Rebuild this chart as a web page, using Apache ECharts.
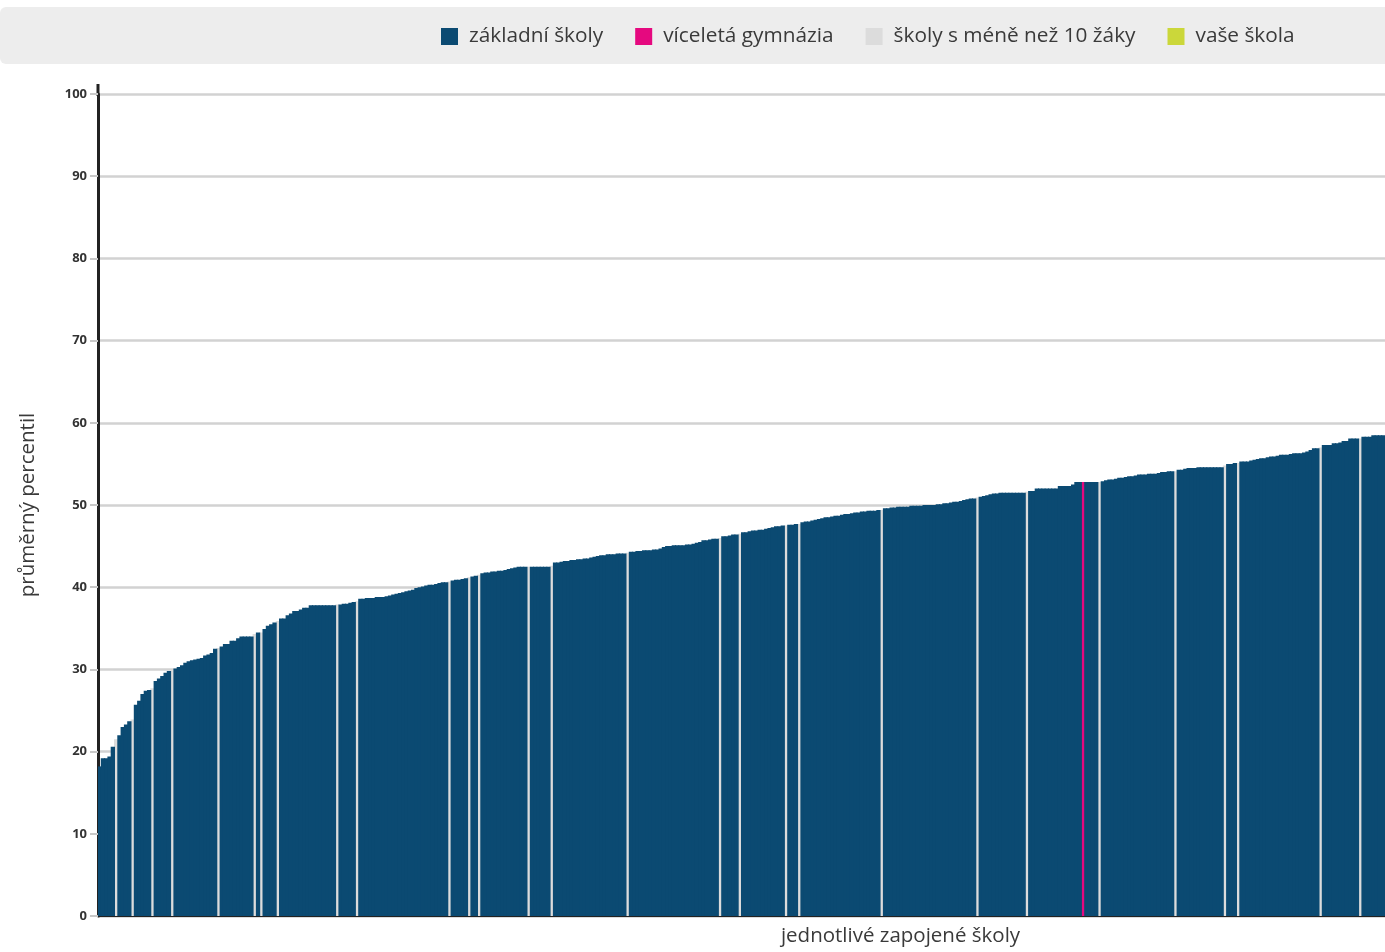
<!DOCTYPE html>
<html>
<head>
<meta charset="utf-8">
<script src="https://cdn.jsdelivr.net/npm/echarts@6/dist/echarts.min.js"></script>
<style>
html, body { margin: 0; padding: 0; background: #fff; }
#chart { width: 1385px; height: 952px; }
</style>
</head>
<body>
<div id="chart"></div>
<script>
// průměrný percentil jednotlivých škol (seřazeno)
var percentil = [
  18.2, 19.2, 19.2, 19.4, 20.6, 21.5, 22.0, 23.0, 23.3, 23.7,
  23.9, 25.7, 26.2, 27.0, 27.4, 27.5, 27.7, 28.6, 28.9, 29.2,
  29.6, 29.8, 29.9, 30.1, 30.3, 30.5, 30.8, 31.0, 31.1, 31.2,
  31.3, 31.4, 31.7, 31.8, 32.0, 32.5, 32.6, 32.8, 33.1, 33.1,
  33.5, 33.5, 33.8, 34.0, 34.0, 34.0, 34.0, 34.3, 34.5, 34.5,
  34.9, 35.3, 35.5, 35.7, 35.9, 36.2, 36.2, 36.6, 36.8, 37.1,
  37.1, 37.3, 37.5, 37.5, 37.8, 37.8, 37.8, 37.8, 37.8, 37.8,
  37.8, 37.8, 37.9, 37.9, 38.0, 38.0, 38.1, 38.2, 38.3, 38.6,
  38.6, 38.7, 38.7, 38.7, 38.8, 38.8, 38.8, 38.9, 39.0, 39.1,
  39.2, 39.3, 39.4, 39.5, 39.6, 39.7, 39.9, 40.0, 40.1, 40.2,
  40.3, 40.3, 40.4, 40.5, 40.6, 40.6, 40.7, 40.8, 40.9, 40.9,
  41.0, 41.1, 41.2, 41.3, 41.4, 41.5, 41.7, 41.8, 41.8, 41.9,
  41.9, 42.0, 42.0, 42.1, 42.2, 42.3, 42.4, 42.5, 42.5, 42.5,
  42.5, 42.5, 42.5, 42.5, 42.5, 42.5, 42.5, 42.6, 43.0, 43.0,
  43.1, 43.2, 43.2, 43.3, 43.3, 43.4, 43.4, 43.5, 43.5, 43.6,
  43.7, 43.8, 43.9, 43.9, 44.0, 44.0, 44.0, 44.1, 44.1, 44.1,
  44.2, 44.3, 44.3, 44.4, 44.4, 44.5, 44.5, 44.5, 44.6, 44.6,
  44.7, 44.9, 45.0, 45.0, 45.1, 45.1, 45.1, 45.1, 45.2, 45.2,
  45.3, 45.4, 45.5, 45.7, 45.7, 45.8, 45.9, 45.9, 46.0, 46.2,
  46.2, 46.3, 46.4, 46.4, 46.5, 46.7, 46.7, 46.8, 46.9, 46.9,
  47.0, 47.0, 47.1, 47.2, 47.3, 47.4, 47.4, 47.5, 47.5, 47.6,
  47.6, 47.7, 47.7, 47.9, 48.0, 48.0, 48.1, 48.2, 48.3, 48.4,
  48.5, 48.5, 48.6, 48.7, 48.7, 48.8, 48.9, 48.9, 49.0, 49.1,
  49.1, 49.2, 49.2, 49.3, 49.3, 49.3, 49.4, 49.4, 49.6, 49.6,
  49.7, 49.7, 49.8, 49.8, 49.8, 49.8, 49.9, 49.9, 49.9, 49.9,
  50.0, 50.0, 50.0, 50.0, 50.1, 50.1, 50.2, 50.2, 50.3, 50.4,
  50.4, 50.5, 50.6, 50.7, 50.8, 50.8, 50.9, 51.0, 51.1, 51.2,
  51.3, 51.4, 51.4, 51.5, 51.5, 51.5, 51.5, 51.5, 51.5, 51.5,
  51.5, 51.6, 51.7, 51.7, 52.0, 52.0, 52.0, 52.0, 52.0, 52.0,
  52.0, 52.3, 52.3, 52.3, 52.3, 52.5, 52.8, 52.8, 52.8, 52.8,
  52.8, 52.8, 52.8, 52.8, 52.9, 53.0, 53.1, 53.1, 53.2, 53.3,
  53.3, 53.4, 53.5, 53.5, 53.6, 53.7, 53.7, 53.7, 53.8, 53.8,
  53.8, 53.9, 54.0, 54.0, 54.1, 54.1, 54.1, 54.3, 54.3, 54.4,
  54.5, 54.5, 54.5, 54.6, 54.6, 54.6, 54.6, 54.6, 54.6, 54.6,
  54.6, 54.8, 55.0, 55.0, 55.1, 55.1, 55.3, 55.3, 55.3, 55.4,
  55.5, 55.6, 55.7, 55.7, 55.8, 55.9, 55.9, 56.0, 56.1, 56.1,
  56.1, 56.2, 56.3, 56.3, 56.3, 56.4, 56.5, 56.7, 56.9, 56.9,
  57.0, 57.3, 57.3, 57.3, 57.5, 57.5, 57.6, 57.8, 57.8, 58.1,
  58.1, 58.1, 58.1, 58.3, 58.3, 58.3, 58.5, 58.5, 58.5, 58.5
];
// pořadí škol s méně než 10 žáky
var maloZaku = [5, 10, 16, 22, 36, 47, 49, 54, 72, 78, 106, 112, 115, 130, 137, 160,
  188, 194, 208, 212, 237, 266, 281, 303, 326, 341, 345, 370, 382];
// pořadí víceletých gymnázií
var gymnazia = [298];
// vaše škola (v tomto výřezu není)
var vaseSkola = [];

var nazvy = ['základní školy', 'víceletá gymnázia', 'školy s méně než 10 žáky', 'vaše škola'];
var barvy = ['#0b4a72', '#e5097f', '#dcdcdc', '#cbd73a'];

var kategorie = percentil.map(function (v, i) { return 'š' + (i + 1); });

function typSkoly(i) {
  if (vaseSkola.indexOf(i) >= 0) return 3;
  if (gymnazia.indexOf(i) >= 0) return 1;
  if (maloZaku.indexOf(i) >= 0) return 2;
  return 0;
}

var series = nazvy.map(function (nazev, t) {
  return {
    name: nazev,
    type: 'bar',
    stack: 'skoly',
    barWidth: 4.3,
    z: t == 0 ? 3 : 2,
    itemStyle: { color: barvy[t] },
    emphasis: { disabled: true },
    data: percentil.map(function (v, i) { return typSkoly(i) == t ? v : '-'; })
  };
});

var myChart = echarts.init(document.getElementById('chart'));
var option = {
  animation: false,
  backgroundColor: '#ffffff',
  graphic: [{
    type: 'rect',
    z: -10,
    shape: { x: 0, y: 7, width: 1400, height: 57, r: 6 },
    style: { fill: '#ededed' }
  }, {
    // osa y přesahuje nad stovku
    type: 'rect',
    shape: { x: 96.5, y: 84, width: 3, height: 12 },
    style: { fill: '#222' }
  }],
  legend: {
    left: 441,
    top: 26,
    padding: 0,
    itemWidth: 17,
    itemHeight: 17,
    itemGap: 32,
    icon: 'rect',
    data: nazvy,
    textStyle: {
      fontFamily: 'Open Sans',
      fontSize: 20.8,
      color: '#3a3a3a',
      padding: [0, 0, 0, 6]
    }
  },
  grid: { left: 98, right: 0, top: 94, bottom: 35 },
  xAxis: {
    type: 'category',
    data: kategorie,
    name: 'jednotlivé zapojené školy',
    nameLocation: 'middle',
    nameGap: 10,
    nameTextStyle: {
      fontFamily: 'Open Sans',
      fontSize: 20.5,
      color: '#3a3a3a',
      padding: [0, 0, 0, 318]
    },
    axisLine: { lineStyle: { color: '#222', width: 2 } },
    axisTick: { show: false },
    axisLabel: { show: false },
    splitLine: { show: false }
  },
  yAxis: {
    type: 'value',
    min: 0,
    max: 100,
    interval: 10,
    name: 'průměrný percentil',
    nameLocation: 'middle',
    nameGap: 59,
    nameTextStyle: {
      fontFamily: 'Open Sans',
      fontSize: 20.5,
      color: '#3a3a3a'
    },
    axisLine: { show: true, lineStyle: { color: '#222', width: 3 } },
    axisTick: { show: true, length: 8, lineStyle: { color: '#c8c8c8', width: 2 } },
    axisLabel: {
      margin: 11,
      fontFamily: 'Open Sans',
      fontWeight: 'bold',
      fontSize: 13,
      color: '#333'
    },
    splitLine: { lineStyle: { color: '#d2d2d2', width: 2.5 } }
  },
  series: series
};
myChart.setOption(option);
</script>
</body>
</html>
